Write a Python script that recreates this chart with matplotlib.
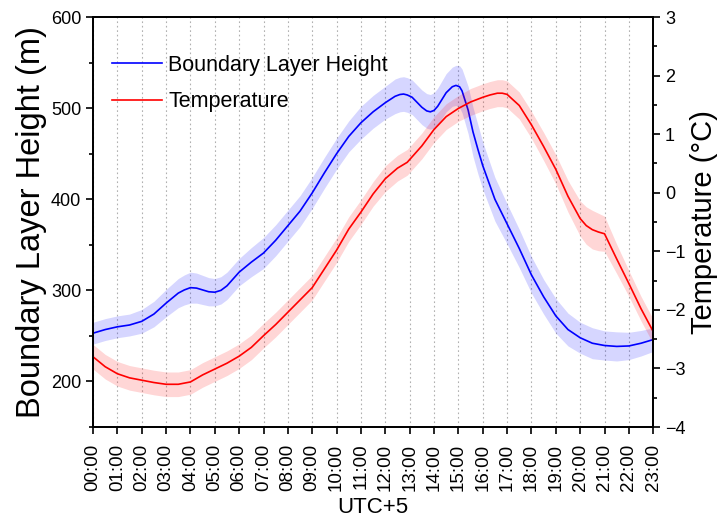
import matplotlib
matplotlib.use('Agg')
import matplotlib.pyplot as plt
from matplotlib.ticker import MultipleLocator

plt.rcParams['font.family'] = ['Liberation Sans', 'DejaVu Sans']

# Boundary layer height (m)
blhHours = [0.0, 0.5, 1.0, 1.5, 2.0, 2.5, 3.0, 3.5, 3.75, 4.0, 4.25, 4.5, 4.75, 5.0,
            5.25, 5.5, 6.0, 6.5, 7.0, 7.5, 8.0, 8.5, 9.0, 9.5, 10.0, 10.5, 11.0, 11.5,
            12.0, 12.4, 12.6, 12.75, 12.9, 13.1, 13.5, 13.7, 13.85, 14.0, 14.15, 14.5,
            14.75, 14.9, 15.05, 15.15, 15.4, 15.6, 15.8, 16.0, 16.5,
            17.0, 17.5, 18.0, 18.5, 19.0, 19.5, 20.0, 20.5, 21.0, 21.5, 22.0, 22.5, 23.0]
blhValues = [253, 257, 260, 262, 266, 274, 286, 297, 300.5, 303, 302.5, 300.5, 298.5,
             298, 300, 305, 320, 331, 341, 355, 371, 387, 407, 429, 450, 469, 484, 496,
             506, 513, 515, 515.5, 514.5, 512, 501, 497, 496, 497.5, 502, 517,
             523.5, 525, 523.5, 519, 498, 474, 455, 437, 400,
             373, 346, 317, 293, 272, 257, 248, 242, 239.5, 238.5, 239, 242, 246]
blhSpread = [12, 12, 12, 12, 13, 14, 15, 16, 16.5, 17, 16.5, 16, 15.5, 15,
             15, 15, 15, 16, 17, 17, 17, 17, 17, 17, 17, 17, 18, 18,
             18, 19, 19, 19, 19, 19, 19, 19, 19, 19.5, 20, 21,
             21.5, 22, 23, 24, 26, 27, 27, 26, 24,
             22, 21, 20, 19, 19, 18, 17, 17, 16, 16, 15, 14, 13]

# Temperature (°C)
tempHours = [0.0, 0.5, 1.0, 1.5, 2.0, 2.5, 3.0, 3.5, 4.0, 4.5, 5.0, 5.5, 6.0, 6.5,
             7.0, 7.5, 8.0, 8.5, 9.0, 9.5, 10.0, 10.5, 11.0, 11.5, 12.0, 12.5, 12.9,
             13.5, 14.0, 14.5, 15.0, 15.5, 16.0, 16.3, 16.6, 16.8, 17.0, 17.5, 18.0,
             18.5, 19.0, 19.5, 20.0, 20.25, 20.5, 20.75, 21.0, 21.5, 22.0, 22.5, 23.0]
tempValues = [-2.80, -2.97, -3.09, -3.16, -3.20, -3.24, -3.27, -3.27, -3.23, -3.11,
              -3.01, -2.91, -2.79, -2.64, -2.44, -2.25, -2.04, -1.83, -1.62, -1.30,
              -0.98, -0.62, -0.33, -0.02, 0.24, 0.42, 0.52, 0.80, 1.08, 1.30, 1.44,
              1.55, 1.63, 1.67, 1.70, 1.70, 1.68, 1.49, 1.16,
              0.79, 0.40, -0.06, -0.44, -0.56, -0.63, -0.67, -0.70, -1.13, -1.55,
              -1.98, -2.37]
tempSpread = [0.21, 0.21, 0.21, 0.21, 0.21, 0.21, 0.21, 0.21, 0.21, 0.21,
              0.21, 0.21, 0.21, 0.21, 0.21, 0.21, 0.21, 0.21, 0.21, 0.21,
              0.21, 0.21, 0.21, 0.21, 0.22, 0.22, 0.22, 0.22, 0.22, 0.22, 0.22,
              0.23, 0.23, 0.23, 0.23, 0.23, 0.23, 0.23, 0.23,
              0.24, 0.25, 0.27, 0.30, 0.32, 0.33, 0.32, 0.30, 0.25, 0.22,
              0.21, 0.21]

hourLabels = ['%02d:00' % h for h in range(24)]

fig = plt.figure(figsize=(7.21, 5.17), dpi=100)
ax = fig.add_axes([0.129, 0.174, 0.777, 0.793])
ax2 = ax.twinx()

# Boundary layer height on the left axis
lo = [v - s for v, s in zip(blhValues, blhSpread)]
hi = [v + s for v, s in zip(blhValues, blhSpread)]
ax.fill_between(blhHours, lo, hi, color='#0000ff', alpha=0.16, linewidth=0)
lineBlh, = ax.plot(blhHours, blhValues, color='#0000ff', linewidth=1.2,
                   solid_joinstyle='round', label='Boundary Layer Height')

# Temperature on the right axis
lo = [v - s for v, s in zip(tempValues, tempSpread)]
hi = [v + s for v, s in zip(tempValues, tempSpread)]
ax2.fill_between(tempHours, lo, hi, color='#ff0000', alpha=0.16, linewidth=0)
lineTemp, = ax2.plot(tempHours, tempValues, color='#ff0000', linewidth=1.2,
                     solid_joinstyle='round', label='Temperature')

ax.set_xlim(0, 23)
ax.set_ylim(150, 600)
ax2.set_ylim(-4, 3)

ax.set_xticks(range(24))
ax.set_xticklabels(hourLabels, rotation=90)
ax.set_yticks([200, 300, 400, 500, 600])
ax.yaxis.set_minor_locator(MultipleLocator(50))
ax2.set_yticks(range(-4, 4))
ax2.yaxis.set_minor_locator(MultipleLocator(0.5))

ax.tick_params(axis='x', which='major', direction='out', length=5, width=1.2,
               labelsize=13.5, pad=7)
ax.tick_params(axis='y', which='major', direction='out', length=5, width=1.2,
               labelsize=13)
ax.tick_params(axis='y', which='minor', direction='out', length=3, width=1.2)
ax2.tick_params(axis='y', which='major', direction='out', length=5, width=1.2,
                labelsize=13)
ax2.tick_params(axis='y', which='minor', direction='out', length=3, width=1.2)

ax.grid(axis='x', color='#b0b0b0', linestyle=(0, (1.5, 2.5)), linewidth=0.8)
ax.set_axisbelow(True)

for spine in list(ax.spines.values()) + list(ax2.spines.values()):
    spine.set_linewidth(1.3)

ax.set_xlabel('UTC+5', fontsize=16, labelpad=4)
ax.set_ylabel('Boundary Layer Height (m)', fontsize=23.5, labelpad=3)
ax2.set_ylabel('Temperature (°C)', fontsize=21, labelpad=3)

ax.legend(handles=[lineBlh, lineTemp], loc='upper left', frameon=False,
          fontsize=15.5, handlelength=2.3, handletextpad=0.3,
          bbox_to_anchor=(0.0, 0.955), borderaxespad=0.5, labelspacing=0.72)

fig.savefig('out.png', dpi=100)
